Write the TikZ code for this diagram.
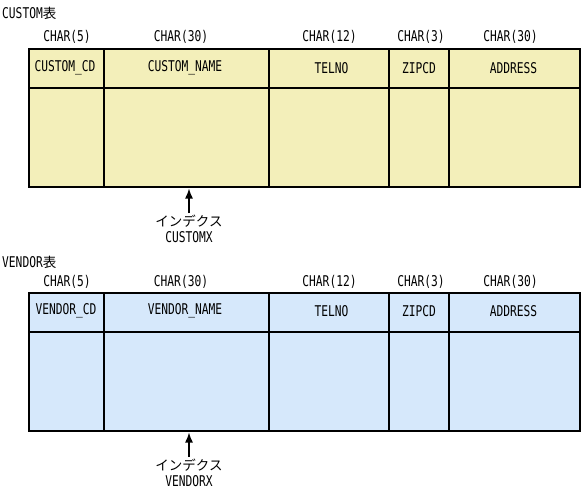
\documentclass[tikz,border=0pt]{standalone}
\usepackage{fontspec}
\setmainfont{DejaVu Sans Mono}[FakeStretch=0.76]
\newfontfamily\jfont{Noto Sans CJK JP}
\usetikzlibrary{arrows.meta}
\definecolor{custfill}{RGB}{243,239,186}
\definecolor{vendfill}{RGB}{214,232,251}
\tikzset{tablebox/.style={draw, line width=2.4pt, minimum width=551pt, minimum height=138pt, inner sep=0pt, outer sep=0pt, anchor=north west},
         cellline/.style={line width=1.2pt},
         lbl/.style={inner sep=0pt, font=\fontsize{14.8}{16}\selectfont},
         idxlbl/.style={align=center, inner sep=2pt, font=\fontsize{14.8}{16}\selectfont},
         idxarrow/.style={line width=1.4pt, -{Latex[length=10pt,width=8pt]}}}

\begin{document}
\begin{tikzpicture}[x=1pt, y=-1pt]
                    \useasboundingbox (0,0) rectangle (585,501);

                    % CUSTOM table
                    \node[lbl, anchor=west] (custtitle) at (2,13) {CUSTOM{\jfont\fontsize{13.5}{16}\selectfont 表}};
                    \node[lbl] (ctype1) at (67,37) {CHAR(5)};
                    \node[lbl] (ctype2) at (181,37) {CHAR(30)};
                    \node[lbl] (ctype3) at (329.5,37) {CHAR(12)};
                    \node[lbl] (ctype4) at (421,37) {CHAR(3)};
                    \node[lbl] (ctype5) at (510.5,37) {CHAR(30)};

                    \node[tablebox, fill=custfill] (cust) at (29,49) {};
                    \draw[cellline] (29,88) -- (580,88);
                    \draw[cellline] (104,49) -- (104,187);
                    \draw[cellline] (269,49) -- (269,187);
                    \draw[cellline] (389,49) -- (389,187);
                    \draw[cellline] (449,49) -- (449,187);
                    \draw[line width=2.4pt] (cust.north west) rectangle (cust.south east);

                    \node[lbl] (ccol1) at (65,68) {CUSTOM\_CD};
                    \node[lbl] (ccol2) at (185,68) {CUSTOM\_NAME};
                    \node[lbl] (ccol3) at (331.5,68) {TELNO};
                    \node[lbl] (ccol4) at (419,68) {ZIPCD};
                    \node[lbl] (ccol5) at (513.5,68) {ADDRESS};

                    \coordinate (custbot) at (189,188.5);
                    \node[idxlbl, anchor=north] (custidx) at (189,213) {{\jfont\fontsize{13.5}{16}\selectfont インデクス}\\CUSTOMX};
                    \draw[idxarrow] (custidx) -- (custbot);

                    % VENDOR table
                    \node[lbl, anchor=west] (vendtitle) at (2,262) {VENDOR{\jfont\fontsize{13.5}{16}\selectfont 表}};
                    \node[lbl] (vtype1) at (67,282) {CHAR(5)};
                    \node[lbl] (vtype2) at (181,282) {CHAR(30)};
                    \node[lbl] (vtype3) at (329.5,282) {CHAR(12)};
                    \node[lbl] (vtype4) at (421,282) {CHAR(3)};
                    \node[lbl] (vtype5) at (510.5,282) {CHAR(30)};

                    \node[tablebox, fill=vendfill] (vend) at (29,293) {};
                    \draw[cellline] (29,332) -- (580,332);
                    \draw[cellline] (104,293) -- (104,431);
                    \draw[cellline] (269,293) -- (269,431);
                    \draw[cellline] (389,293) -- (389,431);
                    \draw[cellline] (449,293) -- (449,431);
                    \draw[line width=2.4pt] (vend.north west) rectangle (vend.south east);

                    \node[lbl] (vcol1) at (66,311) {VENDOR\_CD};
                    \node[lbl] (vcol2) at (185,311) {VENDOR\_NAME};
                    \node[lbl] (vcol3) at (331.5,311) {TELNO};
                    \node[lbl] (vcol4) at (419,311) {ZIPCD};
                    \node[lbl] (vcol5) at (513.5,311) {ADDRESS};

                    \coordinate (vendbot) at (189,432.5);
                    \node[idxlbl, anchor=north] (vendidx) at (189,457) {{\jfont\fontsize{13.5}{16}\selectfont インデクス}\\VENDORX};
                    \draw[idxarrow] (vendidx) -- (vendbot);

                 \end{tikzpicture}
\end{document}
